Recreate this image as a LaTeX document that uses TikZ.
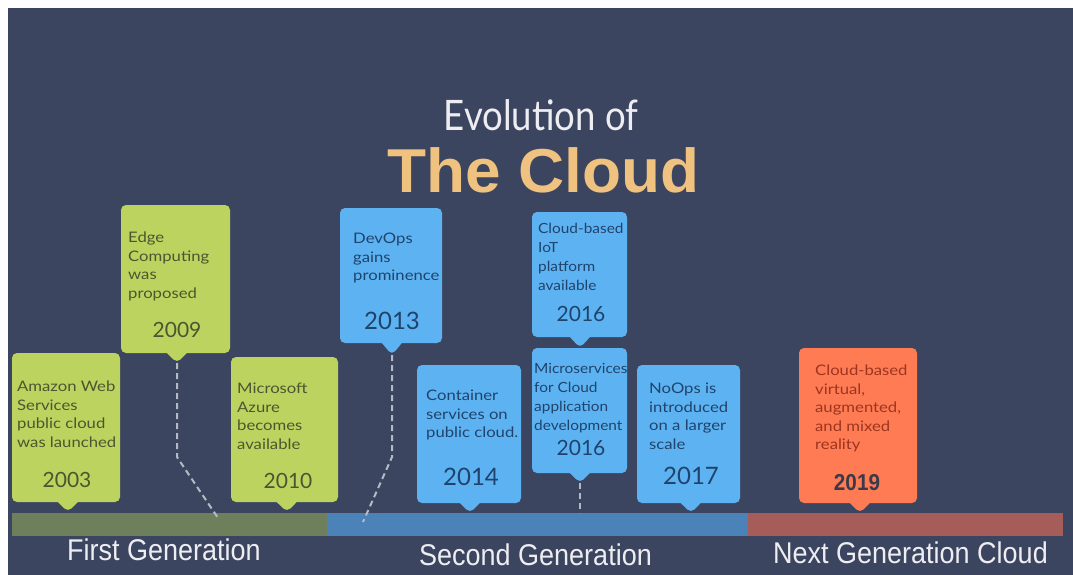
\documentclass[tikz,border=0pt]{standalone}
\usepackage{fontspec}
\setmainfont{Lato}
\newfontfamily\notefont[FakeStretch=1.15]{Lato}
\newfontfamily\smallnotefont[FakeStretch=1.1]{Lato}
\newfontfamily\titlefont[FakeStretch=0.87]{Lato}
\newfontfamily\headfont[FakeStretch=0.9]{Liberation Sans}
\newfontfamily\bigfont[FakeStretch=1.03]{Liberation Sans}
\usetikzlibrary{shapes.callouts,positioning}

\definecolor{slate}{HTML}{3C455F}
\definecolor{leaf}{HTML}{BCD35F}
\definecolor{leafink}{HTML}{4A5630}
\definecolor{sky}{HTML}{5DB3F2}
\definecolor{skyink}{HTML}{1F436C}
\definecolor{coral}{HTML}{FF7B54}
\definecolor{coralink}{HTML}{9C3520}
\definecolor{yearink}{HTML}{3A3A48}
\definecolor{olivebar}{HTML}{6E7F5C}
\definecolor{bluebar}{HTML}{4B82B8}
\definecolor{redbar}{HTML}{A65D5A}
\definecolor{gold}{HTML}{F0C27F}
\definecolor{paper}{HTML}{EEEEF2}
\definecolor{dashgrey}{HTML}{B4B9C6}

\begin{document}
\begin{tikzpicture}[x=1pt, y=-1pt,
    event/.style={rectangle callout, rounded corners=5pt, inner sep=0pt, outer sep=0pt, callout pointer width=20pt},
    note/.style={inner sep=0pt, align=left, font=\notefont\fontsize{14.5}{18.5}\selectfont},
    smallnote/.style={note, font=\smallnotefont\fontsize{14}{19}\selectfont},
    year/.style={inner sep=0pt, font=\fontsize{21}{21}\selectfont},
    gen/.style={inner sep=0pt, text=paper, font=\headfont\fontsize{30}{30}\selectfont},
    link/.style={dash pattern=on 6pt off 4pt, line width=2pt, draw=dashgrey}]

    % page and backdrop
    \fill[white] (0,0) rectangle (1073,575);
    \fill[slate] (8,8) rectangle (1073,575);

    % title
    \node[inner sep=0pt, text=paper, font=\titlefont\fontsize{42}{42}\selectfont] (evo) at (541,115) {Evolution of};
    \node[inner sep=0pt, text=gold, font=\bigfont\bfseries\fontsize{62}{62}\selectfont] (cloud) at (543.5,170) {The Cloud};

    % timeline bars
    \fill[olivebar] (12,513) rectangle (327,536);
    \fill[bluebar] (327,513) rectangle (748,536);
    \fill[redbar] (748,513) rectangle (1063,536);

    % first generation
    \node[event, fill=leaf, minimum width=108pt, minimum height=149pt, callout absolute pointer={(68,512)}] (b03) at (66,427.5) {};
    \node[event, fill=leaf, minimum width=109pt, minimum height=148pt, callout absolute pointer={(177,363)}] (b09) at (175.5,279) {};
    \node[event, fill=leaf, minimum width=107pt, minimum height=145pt, callout absolute pointer={(287,512)}] (b10) at (284.5,429.5) {};
    \node[note, text=leafink, below right=28pt and 5pt of b03.north west] (t03) {Amazon Web\\Services\\public cloud\\was launched};
    \node[note, text=leafink, below right=27pt and 7pt of b09.north west] (t09) {Edge\\Computing\\was\\proposed};
    \node[note, text=leafink, below right=26pt and 6pt of b10.north west] (t10) {Microsoft\\Azure\\becomes\\available};
    \node[year, text=leafink] (y03) at (67,480) {2003};
    \node[year, text=leafink] (y09) at (177,330) {2009};
    \node[year, text=leafink] (y10) at (288,481) {2010};

    % second generation
    \node[event, fill=sky, minimum width=102pt, minimum height=135pt, callout absolute pointer={(392,355)}] (b13) at (391,275.5) {};
    \node[event, fill=sky, minimum width=104pt, minimum height=138pt, callout absolute pointer={(470,513)}] (b14) at (469,434) {};
    \node[event, fill=sky, minimum width=95pt, minimum height=125pt, callout absolute pointer={(580,348)}] (b16a) at (579.5,274.5) {};
    \node[event, fill=sky, minimum width=95pt, minimum height=125pt, callout absolute pointer={(580,483)}] (b16b) at (579.5,410.5) {};
    \node[event, fill=sky, minimum width=103pt, minimum height=138pt, callout absolute pointer={(691,513)}] (b17) at (688.5,434) {};
    \node[note, text=skyink, below right=25pt and 13pt of b13.north west] (t13) {DevOps\\gains\\prominence};
    \node[note, text=skyink, below right=25pt and 9pt of b14.north west] (t14) {Container\\services on\\public cloud.};
    \node[smallnote, text=skyink, below right=11pt and 6pt of b16a.north west] (t16a) {Cloud-based\\IoT\\platform\\available};
    \node[smallnote, text=skyink, below right=15pt and 2pt of b16b.north west] (t16b) {Microservices\\for Cloud\\application\\development};
    \node[note, text=skyink, below right=18pt and 12pt of b17.north west] (t17) {NoOps is\\introduced\\on a larger\\scale};
    \node[year, text=skyink, font=\fontsize{24}{24}\selectfont] (y13) at (392,321) {2013};
    \node[year, text=skyink, font=\fontsize{24}{24}\selectfont] (y14) at (471,477) {2014};
    \node[year, text=skyink] (y16a) at (581,314) {2016};
    \node[year, text=skyink] (y16b) at (581,448) {2016};
    \node[year, text=skyink, font=\fontsize{24}{24}\selectfont] (y17) at (691,476) {2017};

    % next generation
    \node[event, fill=coral, minimum width=118pt, minimum height=155pt, callout absolute pointer={(860,513)}] (b19) at (858,425.5) {};
    \node[note, text=coralink, below right=17pt and 16pt of b19.north west] (t19) {Cloud-based\\virtual,\\augmented,\\and mixed\\reality};
    \node[year, text=yearink, font=\headfont\bfseries\fontsize{23}{23}\selectfont] (y19) at (857,483) {2019};

    % dashed leaders down to the bar
    \coordinate (k09) at (177,457);
    \coordinate (e09) at (218,518);
    \coordinate (k13) at (392,457);
    \coordinate (e13) at (363,522);
    \coordinate (e16) at (580,513);
    \draw[link] (b09.pointer) -- (k09) -- (e09);
    \draw[link] (b13.pointer) -- (k13) -- (e13);
    \draw[link] (b16b.pointer) -- (e16);

    % generation labels
    \node[gen] (g1) at (164,550) {First Generation};
    \node[gen] (g2) at (535.5,555) {Second Generation};
    \node[gen] (g3) at (910.5,552.5) {Next Generation Cloud};
\end{tikzpicture}
\end{document}
